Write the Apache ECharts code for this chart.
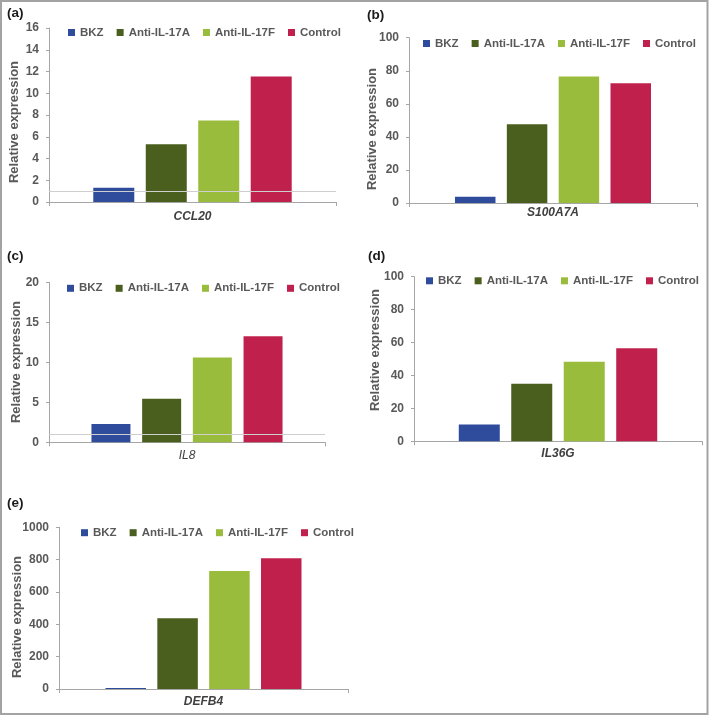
<!DOCTYPE html>
<html><head><meta charset="utf-8">
<script src="https://cdn.jsdelivr.net/npm/echarts@6/dist/echarts.min.js"></script>
<style>html,body{margin:0;padding:0;background:#fff}#c{width:709px;height:716px}</style>
</head><body><div id="c"></div>
<script>
// ---- data ----
const genes = ['CCL20', 'S100A7A', 'IL8', 'IL36G', 'DEFB4'];
const panelLabels = ['(a)', '(b)', '(c)', '(d)', '(e)'];
const seriesNames = ['BKZ', 'Anti-IL-17A', 'Anti-IL-17F', 'Control'];
const bkz      = [1.3, 3.8, 2.3, 10.2, 6];
const antiIL17A = [5.3, 47.6, 5.45, 35, 437];
const antiIL17F = [7.5, 76.6, 10.6, 48.4, 730];
const control  = [11.55, 72.4, 13.25, 56.5, 808];
const yMax      = [16, 100, 20, 100, 1000];
const yInterval = [2, 20, 5, 20, 200];
const refLine   = [1, null, 1, null, null];

// ---- layout / style ----
const colors = ['#2f4b9c', '#4a5e1d', '#9abc3c', '#c0204c'];
const FONT = "'Liberation Sans', Arial, sans-serif";
const TXT = '#595959';
const layout = [
  {grid:{left:49, top:28, width:287, height:174}, legend:{left:63, top:21.5}, bw:41, gap:'28%', lm:9, title:[14,122], lab:[7,13], catW:'bold'},
  {grid:{left:409, top:37.7, width:288, height:165.3}, legend:{left:418, top:32.5}, bw:40.5, gap:'28%', lm:4, title:[372,129], lab:[367,15], catW:'bold'},
  {grid:{left:49, top:282.3, width:276, height:160}, legend:{left:62, top:277.3}, bw:39, gap:'30%', lm:7, title:[16,362], lab:[7,256], catW:'normal'},
  {grid:{left:414, top:276.7, width:288, height:164.6}, legend:{left:421, top:269.8}, bw:41, gap:'28%', lm:6, title:[375,350], lab:[368,256], catW:'bold'},
  {grid:{left:59, top:527.3, width:289, height:161.7}, legend:{left:76, top:521.7}, bw:40.5, gap:'28%', lm:7, title:[17,617], lab:[7,503], catW:'bold'}
];
const values = [bkz, antiIL17A, antiIL17F, control];

const grids = [], xAxes = [], yAxes = [], legends = [], series = [], graphics = [];
layout.forEach((L, i) => {
  grids.push(L.grid);
  xAxes.push({
    type:'category', gridIndex:i, data:[genes[i]],
    axisLine:{lineStyle:{color:'#a6a6a6', width:1}},
    axisTick:{show:true, length:4, lineStyle:{color:'#a6a6a6'}},
    axisLabel:{margin:L.lm, fontFamily:FONT, fontSize:12, fontStyle:'italic', fontWeight:L.catW, color:'#404040'}
  });
  yAxes.push({
    type:'value', gridIndex:i, min:0, max:yMax[i], interval:yInterval[i],
    splitLine:{show:false},
    axisLine:{show:true, lineStyle:{color:'#a6a6a6', width:1}},
    axisTick:{show:true, length:3, lineStyle:{color:'#a6a6a6'}},
    axisLabel:{margin:10, fontFamily:FONT, fontSize:12, fontWeight:'bold', color:TXT, formatter:(v) => String(v)}
  });
  legends.push({
    left:L.legend.left, top:L.legend.top, orient:'horizontal',
    data:seriesNames, itemWidth:7, itemHeight:7, itemGap:13, icon:'rect',
    selectedMode:false,
    textStyle:{fontFamily:FONT, fontSize:11.5, fontWeight:'bold', color:TXT}
  });
  seriesNames.forEach((name, k) => {
    const s = {
      name, type:'bar', xAxisIndex:i, yAxisIndex:i,
      data:[values[k][i]], barWidth:L.bw, barGap:L.gap,
      itemStyle:{color:colors[k]}, silent:true
    };
    if (k === 0 && refLine[i] != null) {
      s.markLine = {
        silent:true, symbol:['none','none'], label:{show:false},
        lineStyle:{color:'#cfcfcf', width:1, type:'solid'},
        data:[{yAxis:refLine[i]}]
      };
    }
    series.push(s);
  });
  graphics.push({
    type:'text', x:L.title[0], y:L.title[1], rotation:Math.PI/2,
    style:{text:'Relative expression', fill:TXT, font:"bold 13px " + FONT, textAlign:'center', textVerticalAlign:'middle'}
  });
  graphics.push({
    type:'text', x:L.lab[0], y:L.lab[1],
    style:{text:panelLabels[i], fill:'#1a1a1a', font:"bold 13.5px " + FONT, textAlign:'left', textVerticalAlign:'middle'}
  });
});
graphics.push({
  type:'rect', shape:{x:1, y:1, width:706.5, height:713}, z:100,
  style:{fill:'none', stroke:'#a3a3a3', lineWidth:2}
});

const chart = echarts.init(document.getElementById('c'), null, {renderer:'canvas'});
chart.setOption({
  animation:false, backgroundColor:'#fff',
  grid:grids, xAxis:xAxes, yAxis:yAxes, legend:legends, series:series, graphic:graphics
});
</script></body></html>
